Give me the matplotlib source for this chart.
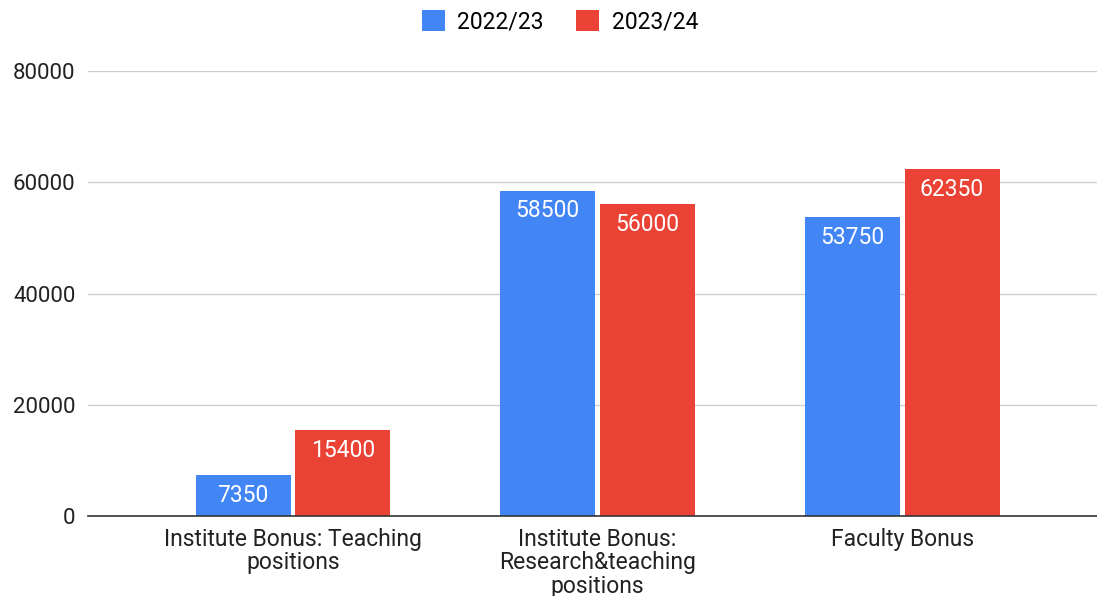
import matplotlib
matplotlib.use("Agg")
import matplotlib.pyplot as plt
import numpy as np

plt.rcParams['font.family'] = ['Roboto', 'DejaVu Sans']

categories = ["Institute Bonus: Teaching\npositions",
              "Institute Bonus:\nResearch&teaching\npositions",
              "Faculty Bonus"]
series_names = ["2022/23", "2023/24"]
values_2223 = [7350, 58500, 53750]
values_2324 = [15400, 56000, 62350]
yticks = [0, 20000, 40000, 60000, 80000]

colors = ["#4285F4", "#EA4335"]

fig = plt.figure(figsize=(10.97, 5.96), dpi=100)
ax = fig.add_axes([88/1097, 80/596, 1 - 88/1097, 445/596])

x = np.arange(len(categories))
w = 0.312
gap = 0.016
for i, (vals, c, name) in enumerate(zip([values_2223, values_2324], colors, series_names)):
    offs = (-1 if i == 0 else 1) * (w / 2 + gap / 2)
    b = ax.bar(x + offs, vals, width=w, color=c, label=name, zorder=3)
    for rect, v in zip(b, vals):
        ax.annotate(f"{v}", (rect.get_x() + rect.get_width() / 2, v),
                    xytext=(0, -20), textcoords="offset pixels",
                    ha="center", va="center", color="white", fontsize=16.5, zorder=4)

ax.set_xlim(-0.673, 2.640)
ax.set_ylim(0, 80000)
ax.set_yticks(yticks)
ax.set_yticklabels([str(t) for t in yticks], fontsize=16, color="#222222")
ax.set_xticks(x)
ax.set_xticklabels(categories, fontsize=16.5, color="#222222", linespacing=1.03)
ax.tick_params(axis="both", length=0)
ax.tick_params(axis="y", pad=9)
ax.tick_params(axis="x", pad=8.5)
ax.grid(axis="y", color="#cccccc", linewidth=1, zorder=0)
for s in ["top", "right", "left"]:
    ax.spines[s].set_visible(False)
ax.spines["bottom"].set_color("#333333")
ax.spines["bottom"].set_linewidth(1.2)
ax.spines["bottom"].set_zorder(5)

leg = fig.legend(loc="center", bbox_to_anchor=(560/1097, 1 - 22/596), ncol=2, frameon=False,
                 fontsize=16.5, handlelength=1.0, handleheight=1.0, handletextpad=0.55,
                 columnspacing=1.4)

fig.savefig("out.png", dpi=100)
